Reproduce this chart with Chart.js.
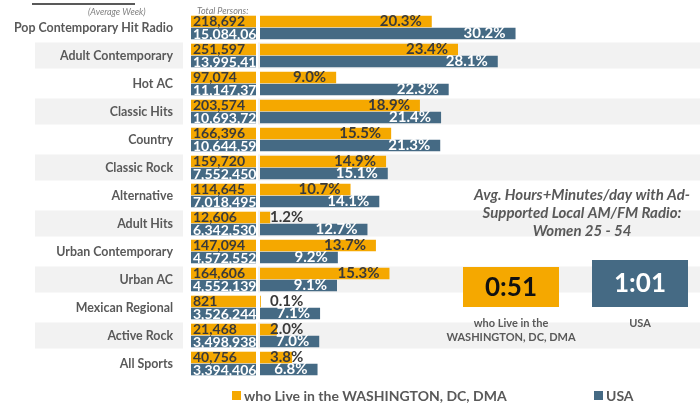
<!DOCTYPE html>
<html>
<head>
<meta charset="utf-8">
<script src="https://cdn.jsdelivr.net/npm/chart.js@4.4.0/dist/chart.umd.min.js"></script>
<style>
	body { margin: 0; background: #ffffff; }
	#wrap { width: 700px; height: 406px; }
</style>
</head>
<body>
<div id="wrap"><canvas id="myBarChart" width="700" height="406"></canvas></div>
<script>
var categories = ['Pop Contemporary Hit Radio', 'Adult Contemporary', 'Hot AC', 'Classic Hits', 'Country',
	'Classic Rock', 'Alternative', 'Adult Hits', 'Urban Contemporary', 'Urban AC', 'Mexican Regional',
	'Active Rock', 'All Sports'];
var localPct = [20.3, 23.4, 9.0, 18.9, 15.5, 14.9, 10.7, 1.2, 13.7, 15.3, 0.1, 2.0, 3.8];
var usaPct = [30.2, 28.1, 22.3, 21.4, 21.3, 15.1, 14.1, 12.7, 9.2, 9.1, 7.1, 7.0, 6.8];
var localTotals = ['218,692', '251,597', '97,074', '203,574', '166,396', '159,720', '114,645',
	'12,606', '147,094', '164,606', '821', '21,468', '40,756'];
var usaTotals = ['15,084,068', '13,995,414', '11,147,370', '10,693,725', '10,644,597', '7,552,450',
	'7,018,495', '6,342,530', '4,572,552', '4,552,139', '3,526,244', '3,498,938', '3,394,406'];
var seriesNames = ['who Live in the WASHINGTON, DC, DMA', 'USA'];
var hoursPerDay = ['0:51', '1:01'];

var ORANGE = '#f5a800';
var BLUE = '#456a84';
var GRAY_TEXT = '#595959';
var FONT = 'Lato, "Liberation Sans", sans-serif';

// gray row bands + left labels + total persons boxes
var sidePlugin = {
	id: 'side',
	beforeDatasetsDraw: function(chart) {
		var ctx = chart.ctx, y = chart.scales.y;
		ctx.save();
		ctx.fillStyle = '#f2f2f2';
		for (var i = 1; i < categories.length; i += 2) {
			var cy = y.getPixelForValue(i);
			ctx.fillRect(35, cy - 13, 148, 26);
			ctx.fillRect(258, cy - 13, 442, 26);
		}
		ctx.restore();
	},
	afterDatasetsDraw: function(chart) {
		var ctx = chart.ctx, y = chart.scales.y;
		var m0 = chart.getDatasetMeta(0).data, m1 = chart.getDatasetMeta(1).data;
		ctx.save();
		// category names
		ctx.font = 'bold 12.4px ' + FONT;
		ctx.fillStyle = GRAY_TEXT;
		ctx.textAlign = 'right';
		ctx.textBaseline = 'middle';
		for (var i = 0; i < categories.length; i++) {
			ctx.fillText(categories[i], 173, y.getPixelForValue(i));
		}
		// total persons boxes
		for (var i = 0; i < categories.length; i++) {
			var b0 = m0[i], b1 = m1[i];
			ctx.fillStyle = ORANGE;
			ctx.fillRect(191, b0.y - b0.height / 2, 65, b0.height);
			ctx.fillStyle = BLUE;
			ctx.fillRect(191, b1.y - b1.height / 2, 65, b1.height);
			ctx.save();
			ctx.beginPath();
			ctx.rect(191, b0.y - b0.height / 2 - 3, 65, b0.height + b1.height + 6);
			ctx.clip();
			ctx.font = 'bold 14px ' + FONT;
			ctx.textAlign = 'left';
			ctx.fillStyle = '#3a3a3a';
			ctx.fillText(localTotals[i], 193, b0.y);
			ctx.fillStyle = '#ffffff';
			ctx.fillText(usaTotals[i], 193, b1.y + 1);
			ctx.restore();
		}
		// bar value labels
		ctx.font = 'bold 15px ' + FONT;
		ctx.textAlign = 'left';
		[m0, m1].forEach(function(meta, d) {
			var vals = d === 0 ? localPct : usaPct;
			meta.forEach(function(bar, i) {
				var t = vals[i].toFixed(1) + '%';
				var w = ctx.measureText(t).width;
				var left = Math.max(bar.x - 10 - w, 270);
				ctx.fillStyle = d === 0 ? '#3a3a3a' : '#ffffff';
				ctx.fillText(t, left, bar.y);
			});
		});
		// header texts
		ctx.font = 'italic 9px ' + FONT;
		ctx.fillStyle = '#7f7f7f';
		ctx.textAlign = 'left';
		ctx.fillText('(Average Week)', 88, 12);
		ctx.fillText('Total Persons:', 197, 11);
		ctx.fillStyle = GRAY_TEXT;
		ctx.fillRect(32, 3, 103, 2);

		// right panel
		ctx.textAlign = 'center';
		ctx.font = 'bold italic 15px ' + FONT;
		ctx.fillStyle = GRAY_TEXT;
		ctx.fillText('Avg. Hours+Minutes/day with Ad-', 582, 195);
		ctx.fillText('Supported Local AM/FM Radio:', 582, 213);
		ctx.fillText('Women 25 - 54', 582, 231);
		ctx.fillStyle = ORANGE;
		ctx.fillRect(463, 267, 96, 40);
		ctx.fillStyle = BLUE;
		ctx.fillRect(592, 260, 96, 47);
		ctx.font = 'bold 26px ' + FONT;
		ctx.fillStyle = '#111111';
		ctx.fillText(hoursPerDay[0], 511, 288);
		ctx.fillStyle = '#ffffff';
		ctx.fillText(hoursPerDay[1], 640, 284);
		ctx.font = 'bold 11px ' + FONT;
		ctx.fillStyle = GRAY_TEXT;
		ctx.fillText('who Live in the', 511, 323);
		ctx.fillText('WASHINGTON, DC, DMA', 511, 337);
		ctx.fillText(seriesNames[1], 640, 323);

		// legend
		ctx.textAlign = 'left';
		ctx.font = 'bold 14px ' + FONT;
		var lx = [232, 594], colors = [ORANGE, BLUE];
		for (var k = 0; k < 2; k++) {
			ctx.fillStyle = colors[k];
			ctx.fillRect(lx[k], 391, 9, 9);
			ctx.fillStyle = GRAY_TEXT;
			ctx.fillText(seriesNames[k], lx[k] + 12, 396);
		}
		ctx.restore();
	}
};

function drawChart1() {
	var ctx = document.getElementById('myBarChart');
	var myBarChart = new Chart(ctx, {
		type: 'bar',
		data: {
			labels: categories,
			datasets: [{
				label: seriesNames[0],
				data: localPct,
				backgroundColor: ORANGE
			}, {
				label: seriesNames[1],
				data: usaPct,
				backgroundColor: BLUE
			}]
		},
		plugins: [sidePlugin],
		options: {
			indexAxis: 'y',
			responsive: false,
			animation: false,
			layout: { padding: { left: 260, right: 0, top: 13.5, bottom: 28.5 } },
			datasets: { bar: { categoryPercentage: 0.86, barPercentage: 0.96 } },
			scales: {
				x: { display: false, min: 0, max: 52 },
				y: { display: false }
			},
			plugins: {
				legend: { display: false },
				tooltip: { enabled: false }
			}
		}
	});
}

drawChart1();
</script>
</body>
</html>
